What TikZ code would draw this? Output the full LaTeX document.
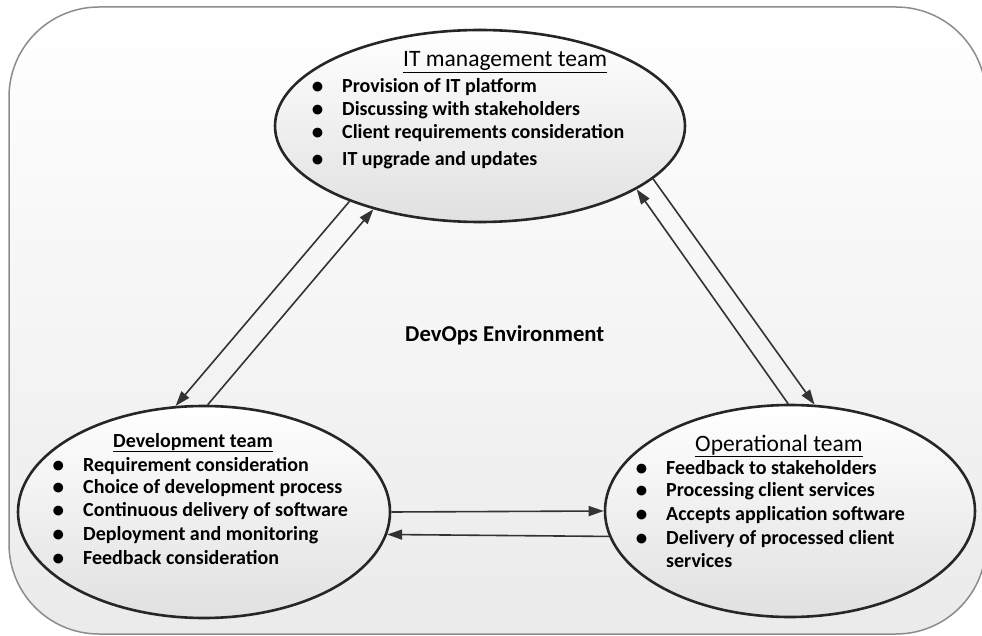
\documentclass[tikz,border=0pt]{standalone}
\usepackage{fontspec}
\setmainfont{Carlito}
\usetikzlibrary{arrows.meta,shapes.geometric}
\newcommand\bitem[1]{\llap{\smash{\raisebox{-1pt}{\fontsize{23}{23}\selectfont\textbullet}}\hspace{19pt}}#1}
\begin{document}
\begin{tikzpicture}[x=1pt,y=-1pt,
  team/.style={ellipse, draw=black!85, line width=2.6pt, top color=white, bottom color=black!12, inner sep=0pt},
  link/.style={draw=black!80, line width=1.6pt, -{Triangle[length=15pt,width=10pt]}},
  item/.style={anchor=base west, inner sep=0pt, font=\fontsize{20}{22}\selectfont\bfseries},
  ttl/.style={anchor=base west, inner sep=0pt, font=\fontsize{23.5}{26}\selectfont},
]
\useasboundingbox (0,0) rectangle (982,636);
\begin{scope}
  \clip (0,0) rectangle (982,636);
  \draw[draw=black!45, line width=1.5pt, rounded corners=90pt, top color=white, bottom color=black!8] (9,7) rectangle (986,634);
\end{scope}

\node[team, minimum width=410pt, minimum height=192pt] (it) at (480,126) {};
\node[team, minimum width=372pt, minimum height=212pt] (dev) at (204,512) {};
\node[team, minimum width=370pt, minimum height=212pt] (ops) at (790,511) {};

\draw[link] (it.-150) -- (dev.105);
\draw[link] (dev.88) -- (it.-142);
\draw[link] (ops.91) -- (it.-22);
\draw[link] (it.-17) -- (ops.77.5);
\draw[link] (dev.0) -- (ops.180.3);
\draw[link] (ops.188.4) -- (dev.-7.7);

% IT management team
\node[ttl] (itT) at (403,67) {\underline{IT management team}};
\node[item] (it1) at (342,93) {\bitem{Provision of IT platform}};
\node[item] (it2) at (342,116) {\bitem{Discussing with stakeholders}};
\node[item] (it3) at (342,139) {\bitem{Client requirements consideration}};
\node[item] (it4) at (342,166) {\bitem{IT upgrade and updates}};

% Development team
\node[ttl, font=\fontsize{20}{22}\selectfont\bfseries] (devT) at (113,447) {\underline{Development team}};
\node[item] (dev1) at (83,471) {\bitem{Requirement consideration}};
\node[item] (dev2) at (83,493) {\bitem{Choice of development process}};
\node[item] (dev3) at (83,516) {\bitem{Continuous delivery of software}};
\node[item] (dev4) at (83,540) {\bitem{Deployment and monitoring}};
\node[item] (dev5) at (83,564) {\bitem{Feedback consideration}};

% Operational team
\node[ttl] (opsT) at (695,451) {\underline{Operational team}};
\node[item] (ops1) at (666,474) {\bitem{Feedback to stakeholders}};
\node[item] (ops2) at (666,496) {\bitem{Processing client services}};
\node[item] (ops3) at (666,520) {\bitem{Accepts application software}};
\node[item] (ops4) at (666,544) {\bitem{Delivery of processed client}};
\node[item] (ops5) at (666,567) {services};

% centre
\node[anchor=base west, inner sep=0pt, font=\fontsize{22.7}{25}\selectfont\bfseries] (env) at (405,341) {DevOps Environment};
\end{tikzpicture}
\end{document}
